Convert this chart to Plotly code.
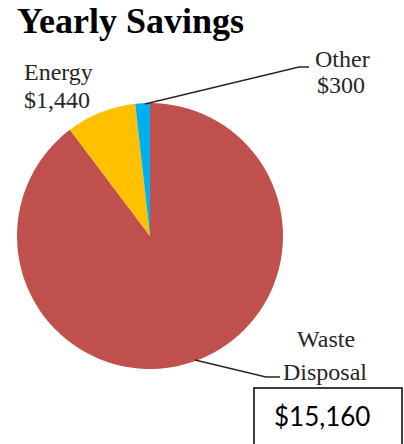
import plotly.graph_objects as go

W, H = 404, 444

categories = ["Waste Disposal", "Energy", "Other"]
values = [15160, 1440, 300]
colors = ["#C0504D", "#FFC000", "#00B0F0"]
title_text = "Yearly Savings"
total_label = "$15,160"

def px(x):
    return x / W

def py(y):
    return 1 - y / H

cx, cy, r = 150, 236, 133

fig = go.Figure(go.Pie(
    labels=categories, values=values, sort=False, direction="clockwise",
    rotation=0, textinfo="none", hoverinfo="none",
    marker=dict(colors=colors, line=dict(width=0)),
    domain=dict(x=[px(cx - r), px(cx + r)], y=[py(cy + r), py(cy - r)]),
    showlegend=False,
))

serif = "Liberation Serif"
lab_col = "#262626"
annots = [
    (title_text, 15, 21, "left", dict(family=serif, size=36, color="#000000"), True),
    ("Energy", 59, 72, "center", dict(family=serif, size=24, color=lab_col), False),
    ("$1,440", 57, 100, "center", dict(family=serif, size=24, color=lab_col), False),
    ("Other", 342, 59, "center", dict(family=serif, size=24, color=lab_col), False),
    ("$300", 341, 85, "center", dict(family=serif, size=24, color=lab_col), False),
    ("Waste", 326, 339, "center", dict(family=serif, size=24, color=lab_col), False),
    ("Disposal", 325, 372, "center", dict(family=serif, size=24, color=lab_col), False),
    (total_label, 322, 416, "center", dict(family="Lato", size=26, color="#000000"), False),
]
for txt, x, y, anc, font, bold in annots:
    fig.add_annotation(
        text=f"<b>{txt}</b>" if bold else txt,
        x=px(x), y=py(y), xref="paper", yref="paper",
        xanchor=anc, yanchor="middle", showarrow=False, font=font,
    )

line_style = dict(color="#262626", width=1.5)
fig.add_shape(type="path", xref="paper", yref="paper",
              path=f"M {px(145)} {py(104)} L {px(299)} {py(67)} L {px(309)} {py(67)}",
              line=line_style)
fig.add_shape(type="path", xref="paper", yref="paper",
              path=f"M {px(195)} {py(360)} L {px(266)} {py(377)} L {px(280)} {py(377)}",
              line=line_style)
fig.add_shape(type="rect", xref="paper", yref="paper",
              x0=px(254), y0=py(388), x1=px(402), y1=py(460),
              line=dict(color="#000000", width=1.5), fillcolor="rgba(0,0,0,0)")

fig.update_layout(
    width=W, height=H, margin=dict(l=0, r=0, t=0, b=0),
    paper_bgcolor="white", plot_bgcolor="white",
)
fig.write_html("out.html")
